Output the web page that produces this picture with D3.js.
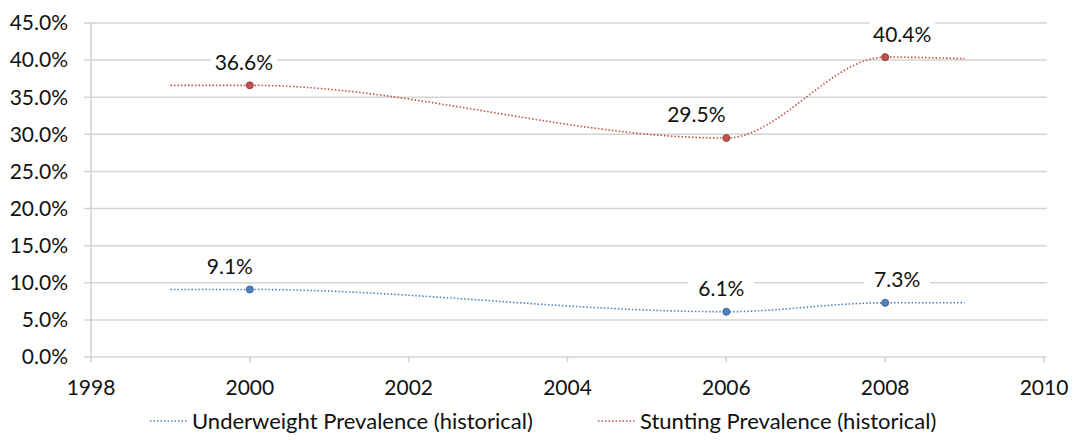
<!DOCTYPE html>
<html>
<head>
<meta charset="utf-8">
<script src="https://cdn.jsdelivr.net/npm/d3@7"></script>
<style>
  body { margin: 0; background: #fff; }
  text { font-family: Lato, "Open Sans", sans-serif; fill: #111; }
</style>
</head>
<body>
<script>
// data
const years = [1999, 2000, 2006, 2008, 2009];
const underweight = [9.1, 9.1, 6.1, 7.3, 7.3];
const stunting = [36.6, 36.6, 29.5, 40.4, 40.2];
const surveyYears = [2000, 2006, 2008];
const yTicks = [0, 5, 10, 15, 20, 25, 30, 35, 40, 45];
const xTicks = [1998, 2000, 2002, 2004, 2006, 2008, 2010];
const seriesNames = ["Underweight Prevalence (historical)", "Stunting Prevalence (historical)"];

const width = 1079, height = 440;
const margin = {left: 91, right: 35, top: 23, bottom: 83};

const svg = d3.select("body").append("svg")
  .attr("width", width)
  .attr("height", height);

const x = d3.scaleLinear().domain([1998, 2010]).range([margin.left, width - margin.right]);
const y = d3.scaleLinear().domain([0, 45]).range([height - margin.bottom, margin.top]);

//gridlines
svg.append("g")
  .selectAll("line")
  .data(yTicks)
  .enter().append("line")
  .attr("x1", x(1998) - 7)
  .attr("x2", x(2010) + 3)
  .attr("y1", d => y(d))
  .attr("y2", d => y(d))
  .attr("stroke", "#d4d4d4")
  .attr("stroke-width", 1.5);

//y axis line
svg.append("line")
  .attr("x1", x(1998)).attr("x2", x(1998))
  .attr("y1", y(45)).attr("y2", y(0))
  .attr("stroke", "#cfcfcf").attr("stroke-width", 1.5);

//x tick marks
svg.append("g")
  .selectAll("line")
  .data(xTicks)
  .enter().append("line")
  .attr("x1", d => x(d)).attr("x2", d => x(d))
  .attr("y1", y(0)).attr("y2", y(0) + 5)
  .attr("stroke", "#cfcfcf").attr("stroke-width", 1.5);

//y labels
svg.append("g")
  .selectAll("text")
  .data(yTicks)
  .enter().append("text")
  .attr("x", 68)
  .attr("y", d => y(d))
  .attr("dy", "0.35em")
  .attr("text-anchor", "end")
  .style("font-size", "21px")
  .text(d => d.toFixed(1) + "%");

//x labels
svg.append("g")
  .selectAll("text")
  .data(xTicks)
  .enter().append("text")
  .attr("x", d => x(d))
  .attr("y", y(0) + 38)
  .attr("text-anchor", "middle")
  .style("font-size", "21px")
  .text(d => d);

const line = d3.line()
  .x(d => x(d[0]))
  .y(d => y(d[1]))
  .curve(d3.curveMonotoneX);

const series = [
  {name: seriesNames[0], values: underweight, color: "#4f81bd", nudge: [0, -20, -5, 12, 0]},
  {name: seriesNames[1], values: stunting, color: "#c0504d", nudge: [0, -6, -30, 17, 0]}
];

series.forEach(s => {
  const pts = years.map((yr, i) => [yr, s.values[i]]);
  svg.append("path")
    .attr("d", line(pts))
    .attr("fill", "none")
    .attr("stroke", s.color)
    .attr("stroke-width", 1.6)
    .attr("stroke-dasharray", "1.5,2");

  const marked = pts.map((p, i) => ({p, i})).filter(d => surveyYears.includes(d.p[0]));

  svg.append("g")
    .selectAll("circle")
    .data(marked)
    .enter().append("circle")
    .attr("cx", d => x(d.p[0]))
    .attr("cy", d => y(d.p[1]))
    .attr("r", 3.5)
    .attr("fill", s.color)
    .attr("stroke", d3.color(s.color).darker(0.6));

  const lab = svg.append("g")
    .selectAll("g")
    .data(marked)
    .enter().append("g")
    .attr("transform", d => `translate(${x(d.p[0]) + s.nudge[d.i]},${y(d.p[1]) - 23})`);
  lab.append("rect")
    .attr("x", -33).attr("y", -13).attr("width", 66).attr("height", 26)
    .attr("fill", "#fff");
  lab.append("text")
    .attr("text-anchor", "middle")
    .attr("dy", "0.35em")
    .style("font-size", "21px")
    .text(d => d.p[1].toFixed(1) + "%");
});

//legend
const legend = svg.append("g").attr("transform", `translate(0,${height - 19})`);
const legendX = [150, 598];
series.forEach((s, i) => {
  legend.append("line")
    .attr("x1", legendX[i]).attr("x2", legendX[i] + 38)
    .attr("y1", 0).attr("y2", 0)
    .attr("stroke", s.color)
    .attr("stroke-width", 1.4)
    .attr("stroke-dasharray", "1.5,2");
  legend.append("text")
    .attr("x", legendX[i] + 42)
    .attr("dy", "0.35em")
    .style("font-size", "22px")
    .text(s.name);
});
</script>
</body>
</html>
